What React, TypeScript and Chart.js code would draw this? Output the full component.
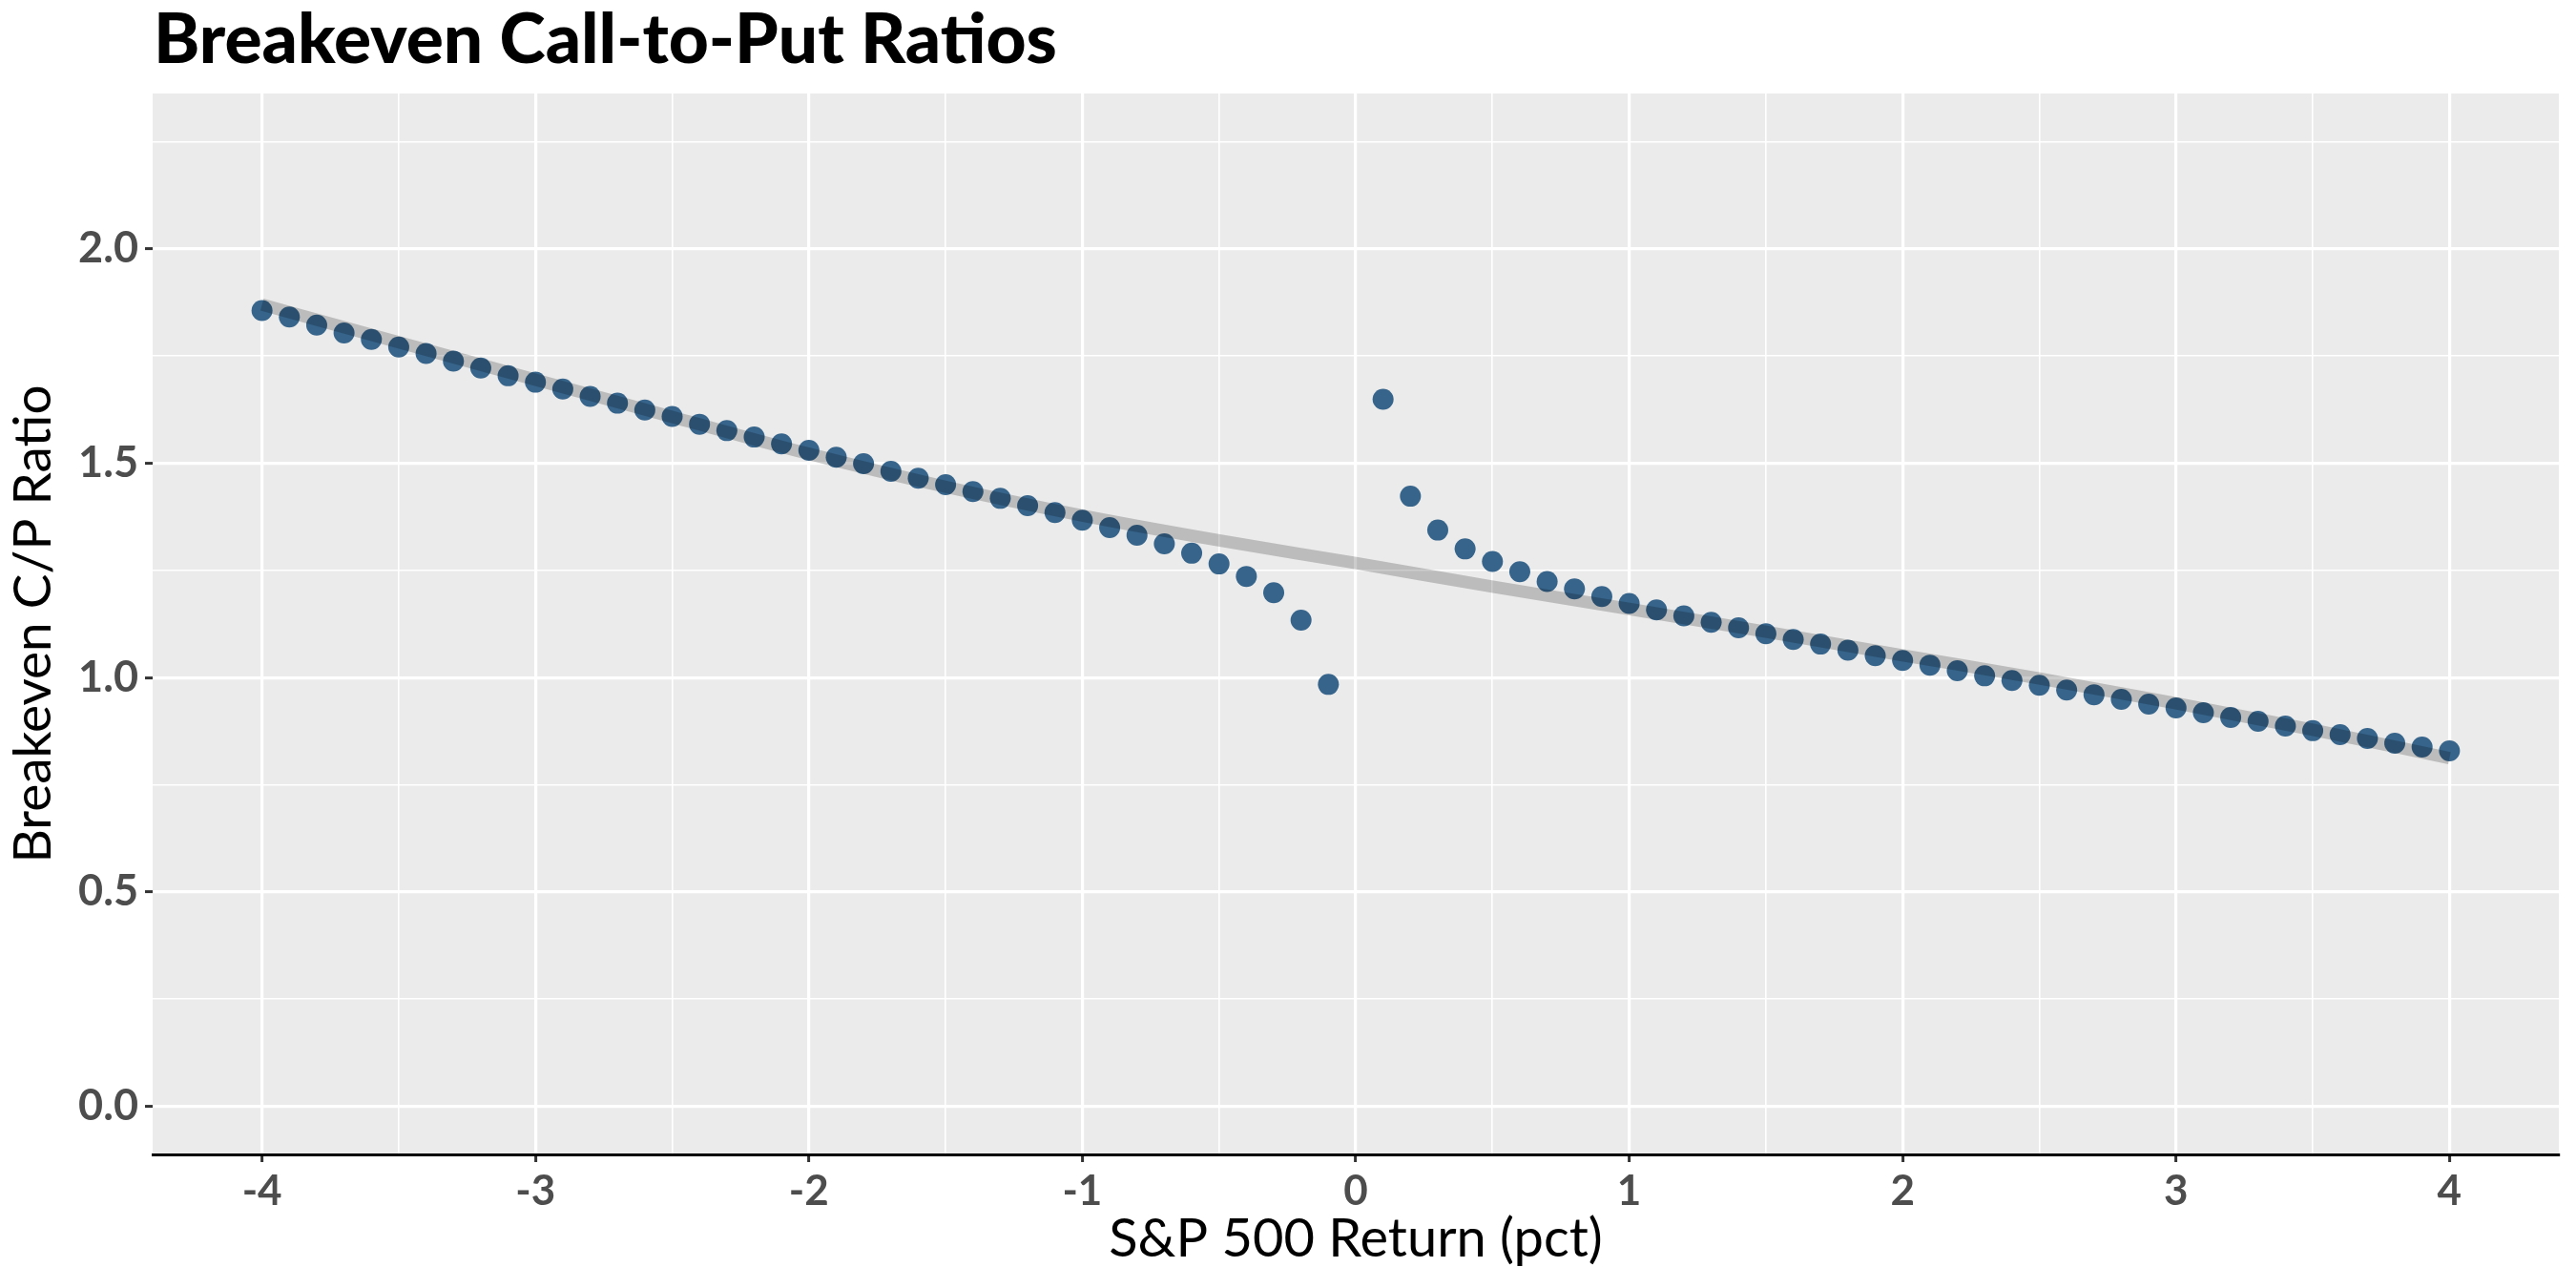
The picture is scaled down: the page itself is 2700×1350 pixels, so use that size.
import React, { useEffect, useRef } from 'react';
import { Chart, registerables } from 'chart.js';

Chart.register(...registerables);

const TITLE = 'Breakeven Call-to-Put Ratios';
const X_TITLE = 'S&P 500 Return (pct)';
const Y_TITLE = 'Breakeven C/P Ratio';

const returnPct = [
  -4.0, -3.9, -3.8, -3.7, -3.6, -3.5, -3.4, -3.3, -3.2, -3.1,
  -3.0, -2.9, -2.8, -2.7, -2.6, -2.5, -2.4, -2.3, -2.2, -2.1,
  -2.0, -1.9, -1.8, -1.7, -1.6, -1.5, -1.4, -1.3, -1.2, -1.1,
  -1.0, -0.9, -0.8, -0.7, -0.6, -0.5, -0.4, -0.3, -0.2, -0.1,
  0.1, 0.2, 0.3, 0.4, 0.5, 0.6, 0.7, 0.8, 0.9, 1.0,
  1.1, 1.2, 1.3, 1.4, 1.5, 1.6, 1.7, 1.8, 1.9, 2.0,
  2.1, 2.2, 2.3, 2.4, 2.5, 2.6, 2.7, 2.8, 2.9, 3.0,
  3.1, 3.2, 3.3, 3.4, 3.5, 3.6, 3.7, 3.8, 3.9, 4.0,
];

const breakevenRatio = [
  1.856, 1.841, 1.822, 1.804, 1.789, 1.771, 1.756, 1.738, 1.722, 1.704,
  1.689, 1.673, 1.656, 1.640, 1.624, 1.609, 1.591, 1.576, 1.561, 1.545,
  1.530, 1.514, 1.499, 1.481, 1.465, 1.450, 1.434, 1.418, 1.401, 1.385,
  1.367, 1.350, 1.332, 1.312, 1.290, 1.265, 1.236, 1.198, 1.134, 0.984,
  1.649, 1.423, 1.344, 1.300, 1.271, 1.247, 1.224, 1.207, 1.189, 1.173,
  1.158, 1.144, 1.129, 1.116, 1.102, 1.089, 1.078, 1.064, 1.051, 1.040,
  1.029, 1.016, 1.004, 0.993, 0.982, 0.971, 0.960, 0.949, 0.938, 0.929,
  0.918, 0.907, 0.898, 0.887, 0.876, 0.867, 0.858, 0.847, 0.838, 0.829,
];

// smooth trend curve
const smoothX = [-4.0, -3.5, -3.0, -2.5, -2.0, -1.5, -1.0, -0.5, 0.0, 0.5, 1.0, 1.5, 2.0, 2.5, 3.0, 3.5, 4.0];
const smoothY = [1.870, 1.782, 1.695, 1.608, 1.522, 1.445, 1.378, 1.320, 1.267, 1.212, 1.160, 1.107, 1.052, 0.998, 0.940, 0.878, 0.812];

const xTickValues = [-4, -3.5, -3, -2.5, -2, -1.5, -1, -0.5, 0, 0.5, 1, 1.5, 2, 2.5, 3, 3.5, 4];
const xMajorTicks = [-4, -3, -2, -1, 0, 1, 2, 3, 4];
const yTickValues = [0, 0.25, 0.5, 0.75, 1.0, 1.25, 1.5, 1.75, 2.0, 2.25];
const yMajorTicks = [0, 0.5, 1.0, 1.5, 2.0];

const X_MIN = -4.4;
const X_MAX = 4.4;
const Y_MIN = -0.1125;
const Y_MAX = 2.3625;

const isIn = (list: number[], v: number) => list.some((m) => Math.abs(m - v) < 1e-6);

const panelBg = {
  id: 'panelBg',
  beforeDraw(chart: any) {
    const { ctx, chartArea } = chart;
    ctx.save();
    ctx.fillStyle = '#EBEBEB';
    ctx.fillRect(chartArea.left, chartArea.top, chartArea.right - chartArea.left, chartArea.bottom - chartArea.top);
    ctx.restore();
  },
};

const plotTitle = {
  id: 'plotTitle',
  afterDraw(chart: any) {
    const { ctx, chartArea } = chart;
    ctx.save();
    ctx.font = '900 73px Lato';
    ctx.fillStyle = '#000000';
    ctx.textAlign = 'left';
    ctx.textBaseline = 'alphabetic';
    ctx.fillText(TITLE, chartArea.left + 1, 66);
    ctx.restore();
  },
};

export default function App() {
  const ref = useRef<HTMLCanvasElement | null>(null);

  useEffect(() => {
    if (!ref.current) return;
    Chart.defaults.font.family = 'Lato';
    const points = returnPct.map((x, i) => ({ x, y: breakevenRatio[i] }));
    const smooth = smoothX.map((x, i) => ({ x, y: smoothY[i] }));

    const gridCommon = (majors: number[]) => ({
      color: '#FFFFFF',
      lineWidth: (c: any) => (isIn(majors, c.tick.value) ? 3.2 : 1.6),
      drawTicks: true,
      tickLength: 8,
      tickWidth: 3,
      tickColor: (c: any) => (isIn(majors, c.tick.value) ? '#333333' : 'rgba(0,0,0,0)'),
    });

    const chart = new Chart(ref.current, {
      type: 'scatter',
      data: {
        datasets: [
          {
            label: 'trend',
            data: smooth,
            showLine: true,
            borderColor: 'rgba(0,0,0,0.2)',
            borderWidth: 13,
            borderCapStyle: 'butt',
            pointRadius: 0,
            cubicInterpolationMode: 'monotone',
            fill: false,
            order: 0,
          } as any,
          {
            label: 'ratio',
            data: points,
            backgroundColor: '#36648B',
            borderWidth: 0,
            pointRadius: 11,
            pointHoverRadius: 11,
            order: 1,
          } as any,
        ],
      },
      options: {
        responsive: false,
        animation: false,
        devicePixelRatio: 1,
        layout: { padding: { top: 98, right: 18, left: 0, bottom: 0 } },
        plugins: {
          legend: { display: false },
          tooltip: { enabled: false },
          title: { display: false },
        },
        scales: {
          x: {
            type: 'linear',
            min: X_MIN,
            max: X_MAX,
            afterBuildTicks: (s: any) => {
              s.ticks = xTickValues.map((v) => ({ value: v }));
            },
            afterFit: (s: any) => {
              s.height = 140;
            },
            ticks: {
              autoSkip: false,
              maxRotation: 0,
              minRotation: 0,
              padding: 4,
              color: '#4D4D4D',
              font: { size: 44, weight: 'bold' },
              callback: (v: any) => (isIn(xMajorTicks, Number(v)) ? String(v) : ''),
            },
            grid: gridCommon(xMajorTicks) as any,
            border: { display: true, color: '#000000', width: 3 },
            title: {
              display: true,
              text: X_TITLE,
              color: '#000000',
              font: { size: 56 },
              padding: { top: 0, bottom: 17 },
            },
          },
          y: {
            type: 'linear',
            min: Y_MIN,
            max: Y_MAX,
            afterBuildTicks: (s: any) => {
              s.ticks = yTickValues.map((v) => ({ value: v }));
            },
            afterFit: (s: any) => {
              s.width = 160;
            },
            ticks: {
              autoSkip: false,
              padding: 7,
              color: '#4D4D4D',
              font: { size: 45, weight: 'bold' },
              callback: (v: any) => (isIn(yMajorTicks, Number(v)) ? Number(v).toFixed(1) : ''),
            },
            grid: gridCommon(yMajorTicks) as any,
            border: { display: false },
            title: {
              display: true,
              text: Y_TITLE,
              color: '#000000',
              font: { size: 55 },
              padding: { top: 2, bottom: 0 },
            },
          },
        },
      },
      plugins: [panelBg, plotTitle],
    });

    return () => chart.destroy();
  }, []);

  return (
    <div style={{ position: 'absolute', left: 0, top: 0, width: 2700, height: 1350, background: '#FFFFFF' }}>
      <canvas ref={ref} width={2700} height={1350} style={{ display: 'block', width: 2700, height: 1350 }} />
    </div>
  );
}
